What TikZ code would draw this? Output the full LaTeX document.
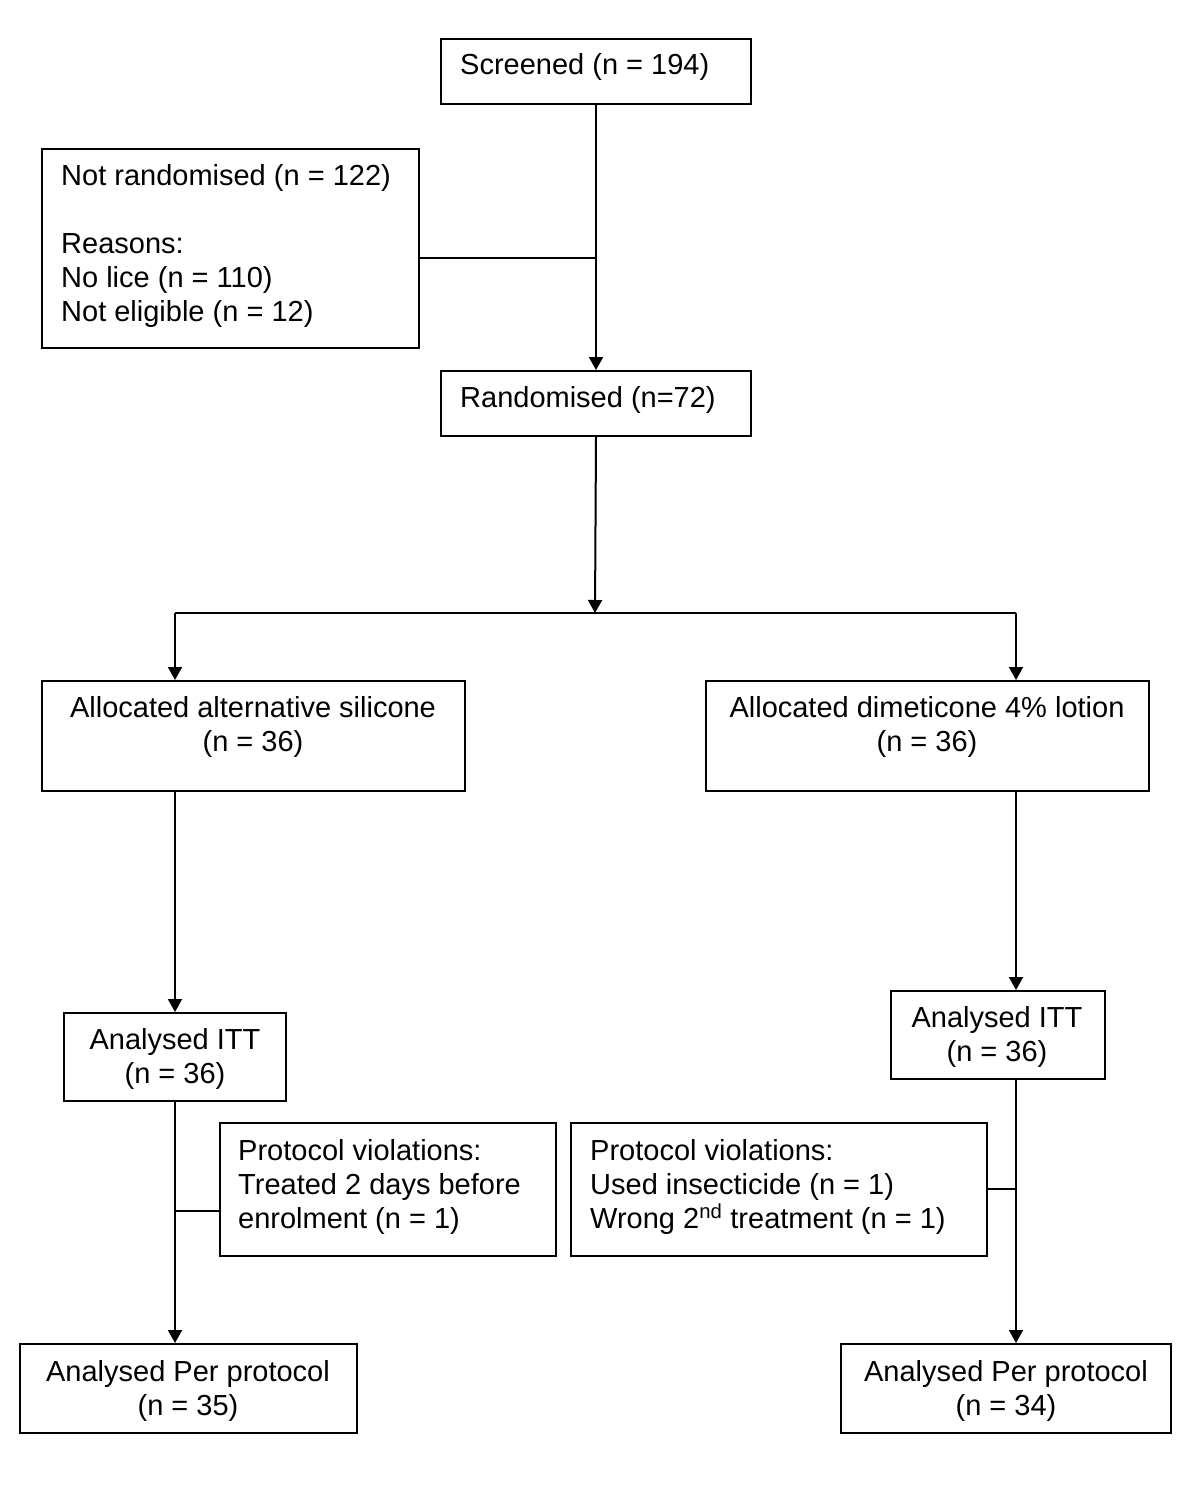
\documentclass[tikz,border=0pt]{standalone}
\usepackage{fontspec}
\setmainfont{Liberation Sans}
\usetikzlibrary{arrows.meta}
\begin{document}
\begin{tikzpicture}[x=1pt,y=-1pt,
  box/.style={draw,line width=2pt,inner sep=0pt,anchor=north west},
  txt/.style={font=\fontsize{29}{34}\selectfont,inner sep=0pt},
  conn/.style={line width=2pt},
  arr/.style={conn,-{Triangle[length=13pt,width=14pt]}}]
\useasboundingbox (0,0) rectangle (1200,1491);
% boxes
\node[box,minimum width=310pt,minimum height=65pt] (scr) at (440,38) {};
\node[box,minimum width=377pt,minimum height=199pt] (notr) at (41,148) {};
\node[box,minimum width=310pt,minimum height=65pt] (rand) at (440,370) {};
\node[box,minimum width=423pt,minimum height=110pt] (allocL) at (41,680) {};
\node[box,minimum width=443pt,minimum height=110pt] (allocR) at (705,680) {};
\node[box,minimum width=222pt,minimum height=88pt] (ittL) at (63,1012) {};
\node[box,minimum width=214pt,minimum height=88pt] (ittR) at (890,990) {};
\node[box,minimum width=336pt,minimum height=133pt] (protL) at (219,1122) {};
\node[box,minimum width=416pt,minimum height=133pt] (protR) at (570,1122) {};
\node[box,minimum width=337pt,minimum height=89pt] (ppL) at (19,1343) {};
\node[box,minimum width=330pt,minimum height=89pt] (ppR) at (840,1343) {};
% texts
\node[txt,anchor=base west] (scrT) at (460,74) {Screened (n = 194)};
\node[txt,anchor=base west] (notrT1) at (61,185) {Not randomised (n = 122)};
\node[txt,anchor=base west] (notrT2) at (61,253) {Reasons:};
\node[txt,anchor=base west] (notrT3) at (61,287) {No lice (n = 110)};
\node[txt,anchor=base west] (notrT4) at (61,321) {Not eligible (n = 12)};
\node[txt,anchor=base west] (randT) at (460,407) {Randomised (n=72)};
\node[txt,anchor=base] (allocLT1) at (253,717) {Allocated alternative silicone};
\node[txt,anchor=base] (allocLT2) at (253,751) {(n = 36)};
\node[txt,anchor=base] (allocRT1) at (927,717) {Allocated dimeticone 4\% lotion};
\node[txt,anchor=base] (allocRT2) at (927,751) {(n = 36)};
\node[txt,anchor=base] (ittLT1) at (175,1049) {Analysed ITT};
\node[txt,anchor=base] (ittLT2) at (175,1083) {(n = 36)};
\node[txt,anchor=base] (ittRT1) at (997,1027) {Analysed ITT};
\node[txt,anchor=base] (ittRT2) at (997,1061) {(n = 36)};
\node[txt,anchor=base west] (protLT1) at (238,1160) {Protocol violations:};
\node[txt,anchor=base west] (protLT2) at (238,1194) {Treated 2 days before};
\node[txt,anchor=base west] (protLT3) at (238,1228) {enrolment (n = 1)};
\node[txt,anchor=base west] (protRT1) at (590,1160) {Protocol violations:};
\node[txt,anchor=base west] (protRT2) at (590,1194) {Used insecticide (n = 1)};
\node[txt,anchor=base west] (protRT3) at (590,1228) {Wrong 2\textsuperscript{nd} treatment (n = 1)};
\node[txt,anchor=base] (ppLT1) at (188,1381) {Analysed Per protocol};
\node[txt,anchor=base] (ppLT2) at (188,1415) {(n = 35)};
\node[txt,anchor=base] (ppRT1) at (1006,1381) {Analysed Per protocol};
\node[txt,anchor=base] (ppRT2) at (1006,1415) {(n = 34)};
% connectors
\coordinate (j1) at (595,258);
\coordinate (br) at (595,613);
\coordinate (bL) at (175,613);
\coordinate (bR) at (1016,613);
\coordinate (jL) at (175,1211);
\coordinate (jR) at (1016,1189);
\draw[arr] (scr.south) -- (rand.north);
\draw[conn] (notr.east |- j1) -- (j1);
\draw[arr] (rand.south) -- (br);
\draw[conn] (bL) -- (bR);
\draw[arr] (bL) -- (bL |- allocL.north);
\draw[arr] (bR) -- (bR |- allocR.north);
\draw[arr] (bL |- allocL.south) -- (bL |- ittL.north);
\draw[arr] (bR |- allocR.south) -- (bR |- ittR.north);
\draw[arr] (bL |- ittL.south) -- (bL |- ppL.north);
\draw[arr] (bR |- ittR.south) -- (bR |- ppR.north);
\draw[conn] (jL) -- (protL.west |- jL);
\draw[conn] (protR.east |- jR) -- (jR);
\end{tikzpicture}
\end{document}
